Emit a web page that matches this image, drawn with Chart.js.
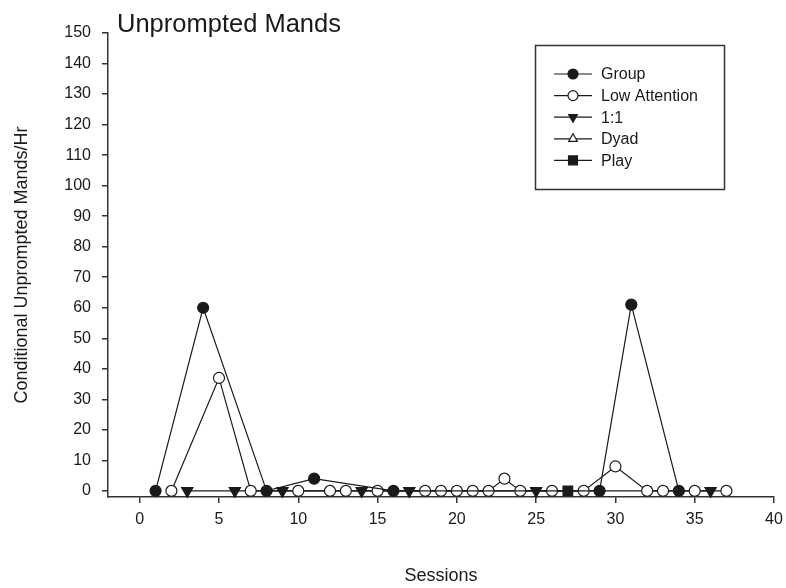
<!DOCTYPE html>
<html>
<head>
<meta charset="utf-8">
<script src="https://cdn.jsdelivr.net/npm/chart.js@4.4.0/dist/chart.umd.min.js"></script>
<style>
  body { margin: 0; background: #fff; }
  #wrap { width: 786px; height: 588px; position: relative; }
</style>
</head>
<body>
<div id="wrap"><canvas id="myChart"></canvas></div>
<script>
// sessions and mands/hr per condition
var groupSessions = [1, 4, 8, 11, 16, 29, 31, 34]
var groupValues   = [0, 60, 0, 4, 0, 0, 61, 0]

var lowSessions = [2, 5, 7, 10, 12, 13, 15, 18, 19, 20, 21, 22, 23, 24, 26, 28, 30, 32, 33, 35, 37]
var lowValues   = [0, 37, 0, 0, 0, 0, 0, 0, 0, 0, 0, 0, 4, 0, 0, 0, 8, 0, 0, 0, 0]

var oneSessions = [3, 6, 9, 14, 17, 25, 36]
var oneValues   = [0, 0, 0, 0, 0, 0, 0]

var dyadSessions = []
var dyadValues   = []

var playSessions = [27]
var playValues   = [0]

var xTicks = [0, 5, 10, 15, 20, 25, 30, 35, 40]
var yTicks = [0, 10, 20, 30, 40, 50, 60, 70, 80, 90, 100, 110, 120, 130, 140, 150]

var FONT = '"Liberation Sans", Arial, sans-serif'
var INK = '#1a1a1a'

function pts(xs, ys) {
  return xs.map(function (x, i) { return { x: x, y: ys[i] } })
}

function series(label, xs, ys, style, fill, radius, rotation) {
  return {
    label: label,
    data: pts(xs, ys),
    borderColor: INK,
    borderWidth: 1.2,
    pointStyle: style,
    pointRotation: rotation || 0,
    pointRadius: radius,
    pointBorderColor: INK,
    pointBorderWidth: 1.2,
    pointBackgroundColor: fill,
    backgroundColor: fill,
    tension: 0,
    clip: false
  }
}

// boxed legend inside the plot, line + marker per entry
var boxLegend = {
  id: 'boxLegend',
  afterDraw: function (chart) {
    var ctx = chart.ctx
    ctx.save()
    ctx.strokeStyle = '#333'
    ctx.lineWidth = 1.5
    ctx.strokeRect(535.5, 45.5, 189, 144)
    ctx.font = '16px ' + FONT
    ctx.textBaseline = 'middle'
    chart.data.datasets.forEach(function (ds, i) {
      var y = 74 + i * 21.6
      ctx.strokeStyle = INK
      ctx.lineWidth = 1.2
      ctx.beginPath()
      ctx.moveTo(554, y)
      ctx.lineTo(592, y)
      ctx.stroke()
      ctx.fillStyle = ds.pointBackgroundColor
      ctx.strokeStyle = INK
      ctx.lineWidth = 1.2
      var r = ds.pointStyle === 'triangle' ? ds.pointRadius - 1.5 : ds.pointRadius - 0.5
      Chart.helpers.drawPoint(ctx, {
        pointStyle: ds.pointStyle,
        rotation: ds.pointRotation,
        radius: r,
        borderWidth: 1.2
      }, 573, y)
      ctx.fillStyle = INK
      ctx.fillText(ds.label, 601, y + 1)
    })
    ctx.restore()
  }
}

var plotTitle = {
  id: 'plotTitle',
  afterDraw: function (chart) {
    var ctx = chart.ctx
    ctx.save()
    ctx.fillStyle = INK
    ctx.font = '25.5px ' + FONT
    ctx.textBaseline = 'alphabetic'
    ctx.fillText('Unprompted Mands', 117, 32)
    ctx.restore()
  }
}

var ctx = document.getElementById('myChart').getContext('2d')
var chart = new Chart(ctx, {
  type: 'line',
  data: {
    datasets: [
      series('Group', groupSessions, groupValues, 'circle', INK, 5.5),
      series('Low Attention', lowSessions, lowValues, 'circle', '#fff', 5.5),
      series('1:1', oneSessions, oneValues, 'triangle', INK, 6.5, 180),
      series('Dyad', dyadSessions, dyadValues, 'triangle', '#fff', 6.5),
      series('Play', playSessions, playValues, 'rect', INK, 6.8)
    ]
  },
  options: {
    responsive: true,
    maintainAspectRatio: false,
    animation: false,
    layout: { padding: { top: 33, right: 3, left: 0, bottom: 0 } },
    plugins: {
      legend: { display: false },
      title: { display: false },
      tooltip: { enabled: false }
    },
    scales: {
      x: {
        type: 'linear',
        min: -2,
        max: 40,
        afterBuildTicks: function (scale) {
          scale.ticks = xTicks.map(function (v) { return { value: v } })
        },
        afterFit: function (scale) {
          scale.height = 91
          scale.paddingLeft = 0
          scale.paddingRight = 12
        },
        grid: { drawOnChartArea: false, drawTicks: true, tickLength: 6, color: '#333', lineWidth: 1.5 },
        border: { display: true, color: '#333', width: 1.5 },
        ticks: { color: INK, font: { family: FONT, size: 16 }, padding: 7, maxRotation: 0 },
        title: { display: true, text: 'Sessions', color: INK, font: { family: FONT, size: 18 }, padding: { top: 0, bottom: 1 } }
      },
      y: {
        type: 'linear',
        min: -2,
        max: 150,
        afterBuildTicks: function (scale) {
          scale.ticks = yTicks.map(function (v) { return { value: v } })
        },
        afterFit: function (scale) { scale.width = 108 },
        grid: { drawOnChartArea: false, drawTicks: true, tickLength: 6, color: '#333', lineWidth: 1.5 },
        border: { display: true, color: '#333', width: 1.5 },
        ticks: { color: INK, font: { family: FONT, size: 16 }, padding: 11 },
        title: { display: true, text: 'Conditional Unprompted Mands/Hr', color: INK, font: { family: FONT, size: 18 }, padding: { top: 11, bottom: 0 } }
      }
    }
  },
  plugins: [boxLegend, plotTitle]
})
</script>
</body>
</html>
